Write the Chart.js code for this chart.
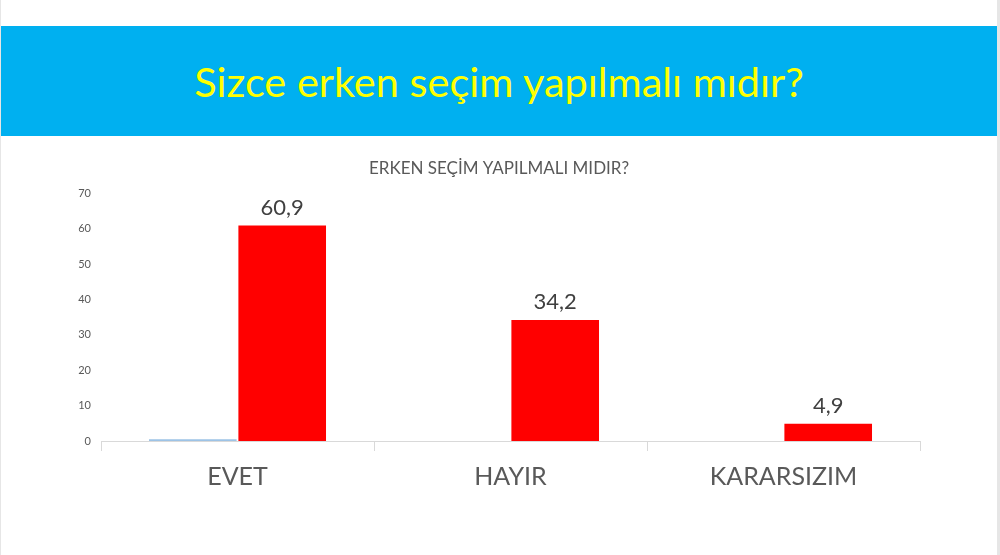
<!DOCTYPE html>
<html><head><meta charset="utf-8">
<script src="https://cdn.jsdelivr.net/npm/chart.js@4"></script>
<style>
html,body{margin:0;padding:0;background:#fff;}
body{width:1000px;height:555px;position:relative;overflow:hidden;font-family:Lato,sans-serif;}
#edgeL{position:absolute;left:0;top:0;width:1px;height:555px;background:#e6e6e6;}
#edgeR{position:absolute;left:997px;top:0;width:3px;height:555px;background:#e6e6e6;}
#banner{position:absolute;left:1px;top:26px;width:996px;height:110px;background:#00b0f0;color:#ffff00;font:41.5px Lato,sans-serif;display:flex;align-items:center;justify-content:center;}
#wrap{position:absolute;left:1px;top:136px;width:996px;height:419px;}
</style></head>
<body>
<div id="edgeL"></div><div id="edgeR"></div>
<div id="banner">Sizce erken seçim yapılmalı mıdır?</div>
<div id="wrap"><canvas id="c"></canvas></div>
<script>
const chartTitle = 'ERKEN SEÇİM YAPILMALI MIDIR?';
const categories = ['EVET', 'HAYIR', 'KARARSIZIM'];
const seriesBlue = [0.5, 0, 0];
const seriesRed = [60.9, 34.2, 4.9];
const yTickValues = [0, 10, 20, 30, 40, 50, 60, 70];

const valueLabels = {
  id: 'valueLabels',
  afterDatasetsDraw(chart) {
    const ctx = chart.ctx;
    const meta = chart.getDatasetMeta(1);
    ctx.save();
    ctx.font = '22px Lato';
    ctx.fillStyle = '#404040';
    ctx.textAlign = 'center';
    ctx.textBaseline = 'alphabetic';
    meta.data.forEach((bar, i) => {
      ctx.fillText(String(seriesRed[i]).replace('.', ','), bar.x, bar.y - 11);
    });
    ctx.restore();
  }
};

new Chart(document.getElementById('c'), {
  type: 'bar',
  data: {
    labels: categories,
    datasets: [
      { data: seriesBlue, backgroundColor: '#9dc3e6', categoryPercentage: 0.655, barPercentage: 0.98 },
      { data: seriesRed, backgroundColor: '#ff0000', categoryPercentage: 0.655, barPercentage: 0.98 }
    ]
  },
  options: {
    responsive: true,
    maintainAspectRatio: false,
    animation: false,
    layout: { padding: 0 },
    plugins: {
      legend: { display: false },
      tooltip: { enabled: false },
      title: {
        display: true,
        text: chartTitle,
        color: '#595959',
        font: { family: 'Lato', size: 17, weight: 'normal' },
        padding: { top: 22, bottom: 15 }
      }
    },
    scales: {
      x: {
        grid: { display: true, drawOnChartArea: false, drawTicks: true, tickLength: 10, color: '#d9d9d9', offset: true },
        border: { display: true, color: '#d9d9d9' },
        ticks: { color: '#595959', font: { family: 'Lato', size: 25 }, padding: 11 },
        afterFit(scale) { scale.height = 114; }
      },
      y: {
        min: 0, max: 70,
        grid: { display: false },
        border: { display: false },
        afterBuildTicks(scale) { scale.ticks = yTickValues.map(v => ({ value: v })); },
        ticks: { color: '#595959', font: { family: 'Lato', size: 11 }, padding: 2 },
        afterFit(scale) { scale.width = 100; }
      },
      yRight: {
        position: 'right',
        min: 0, max: 70,
        grid: { display: false },
        border: { display: false },
        ticks: { display: false },
        afterFit(scale) { scale.width = 77; }
      }
    }
  },
  plugins: [valueLabels]
});
</script>
</body></html>
